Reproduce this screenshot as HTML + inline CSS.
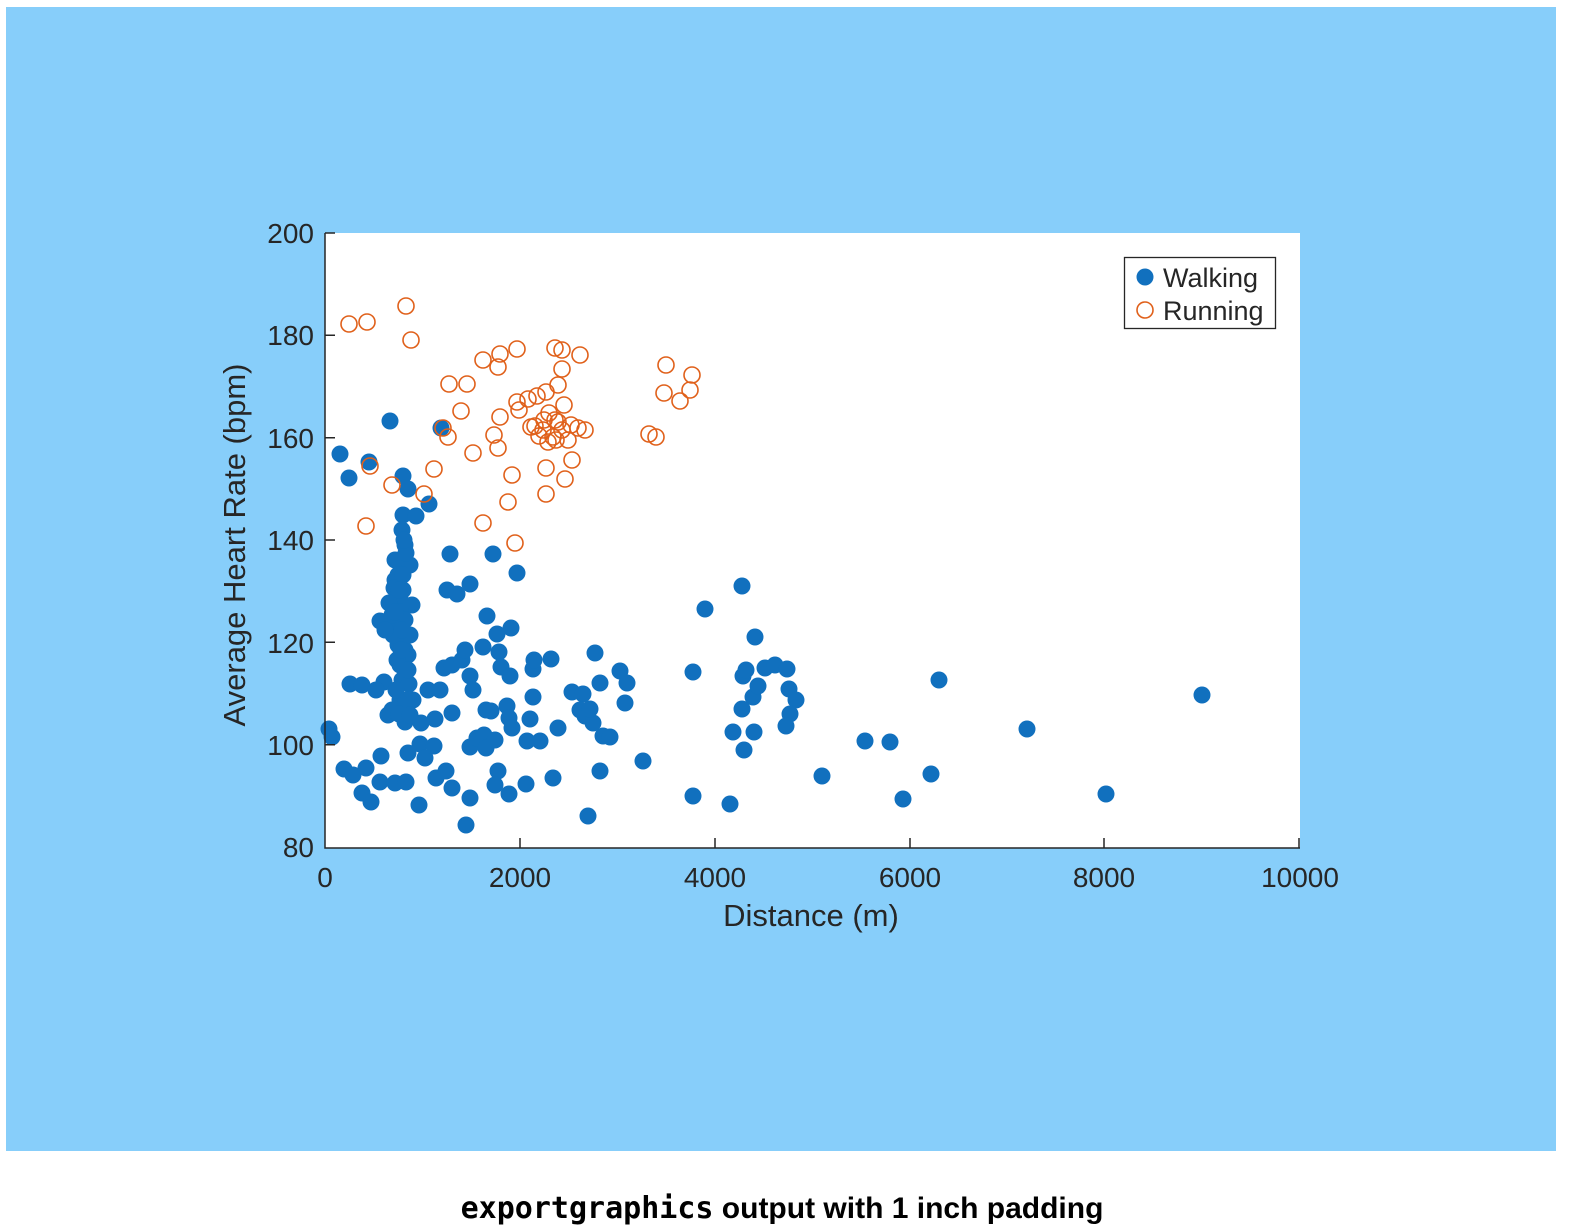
<!DOCTYPE html>
<html><head><meta charset="utf-8"><style>
html,body{margin:0;padding:0;background:#fff;width:1569px;height:1228px;overflow:hidden}
</style></head><body>
<svg width="1569" height="1228" xmlns="http://www.w3.org/2000/svg" font-family="Liberation Sans, Arial, sans-serif">
<rect x="6" y="7" width="1550" height="1144" fill="#87CEFA"/>
<rect x="325" y="233" width="975" height="615" fill="#fff"/>
<g id="walk" fill="#1170BE">
</g>
<g id="run" fill="none" stroke="#E0601A" stroke-width="1.6">
</g>
<g stroke="#262626" stroke-width="1.5" fill="none">
<path d="M325,233 V848 H1300"/>
<path d="M325,335.3h10M325,437.7h10M325,540h10M325,642.3h10M325,744.7h10M325,233h10"/>
<path d="M520,848v-10M715,848v-10M910,848v-10M1104,848v-10M1299,848v-10"/>
</g>
<g fill="#262626" font-size="28" text-anchor="end">
<text x="314" y="243">200</text><text x="314" y="345">180</text><text x="314" y="448">160</text>
<text x="314" y="550">140</text><text x="314" y="653">120</text><text x="314" y="755">100</text><text x="314" y="857">80</text>
</g>
<g fill="#262626" font-size="28" text-anchor="middle">
<text x="325" y="887">0</text><text x="520" y="887">2000</text><text x="715" y="887">4000</text>
<text x="910" y="887">6000</text><text x="1104" y="887">8000</text><text x="1300" y="887">10000</text>
<text x="811" y="926" font-size="31">Distance (m)</text>
<text transform="translate(245,545) rotate(-90)" font-size="31">Average Heart Rate (bpm)</text>
</g>
<rect x="1124.5" y="257.5" width="151" height="71" fill="#fff" stroke="#262626" stroke-width="1.3"/>
<circle cx="1145" cy="277" r="8.5" fill="#1170BE"/>
<circle cx="1145" cy="310" r="8" fill="none" stroke="#E0601A" stroke-width="1.6"/>
<text x="1163" y="287" font-size="27" fill="#262626">Walking</text>
<text x="1163" y="320" font-size="27" fill="#262626">Running</text>
<text x="782" y="1218" font-size="30" font-weight="bold" text-anchor="middle" fill="#000"><tspan font-family="DejaVu Sans Mono, Liberation Mono, monospace">exportgraphics</tspan> output with 1 inch padding</text>
</svg>
<script>
var W=[[340,454],[349,478],[369,462],[390,421],[441,428],[403,476],[408,489],[403,515],[416,516],[429,504],[450,554],[493,554],[517,573],[447,590],[457,594],[470,584],[487,616],[511,628],[380,621],[390,626],[395,580],[400,560],[405,545],[402,530],[410,565],[412,605],[398,640],[405,650],[410,635],[400,665],[402,680],[409,684],[400,700],[405,722],[413,700],[388,715],[392,710],[384,682],[350,684],[362,685],[376,690],[329,729],[332,737],[344,769],[353,775],[366,768],[381,756],[362,793],[371,802],[380,782],[395,783],[406,782],[419,805],[408,753],[420,744],[425,758],[434,746],[436,778],[446,771],[452,788],[421,723],[435,719],[428,690],[440,690],[444,668],[452,665],[462,660],[465,650],[470,676],[473,690],[452,713],[470,747],[477,738],[484,735],[486,748],[486,710],[491,711],[495,740],[483,647],[497,634],[499,652],[501,667],[510,676],[498,771],[495,785],[509,794],[470,798],[466,825],[507,706],[509,718],[512,728],[530,719],[527,741],[540,741],[526,784],[553,778],[533,697],[533,669],[534,660],[551,659],[558,728],[572,692],[583,694],[580,710],[585,716],[593,723],[590,709],[595,653],[600,683],[603,736],[610,737],[600,771],[588,816],[620,671],[627,683],[625,703],[643,761],[693,672],[705,609],[742,586],[755,637],[743,676],[746,670],[742,709],[753,697],[758,686],[765,668],[775,665],[787,669],[789,689],[796,700],[790,714],[786,726],[733,732],[754,732],[744,750],[693,796],[730,804],[822,776],[865,741],[890,742],[903,799],[931,774],[939,680],[1027,729],[1106,794],[1202,695],[395,560],[398,575],[403,590],[395,600],[400,610],[405,620],[395,625],[398,645],[408,655],[393,635],[400,595],[403,575],[406,553],[394,588],[392,615],[402,630],[389,603],[397,660],[385,630],[406,700],[399,714],[410,715],[404,540],[399,590],[396,690],[408,670],[401,650],[395,612]];
var R=[[349,324],[367,322],[406,306],[411,340],[449,384],[467,384],[461,411],[483,360],[500,354],[498,367],[517,349],[555,348],[562,350],[580,355],[562,369],[558,385],[546,392],[537,396],[528,399],[517,402],[519,410],[500,417],[494,435],[498,448],[473,453],[448,437],[443,428],[434,469],[424,494],[392,485],[370,466],[366,526],[483,523],[508,502],[512,475],[515,543],[546,494],[546,468],[565,479],[572,460],[548,442],[543,430],[531,427],[539,436],[553,437],[556,440],[562,430],[571,425],[578,428],[585,430],[564,405],[549,413],[555,420],[558,422],[544,420],[568,440],[649,434],[656,437],[664,393],[666,365],[680,401],[690,390],[692,375],[535,426]];
var ns="http://www.w3.org/2000/svg",gw=document.getElementById("walk"),gr=document.getElementById("run");
W.forEach(function(p){var c=document.createElementNS(ns,"circle");c.setAttribute("cx",p[0]);c.setAttribute("cy",p[1]);c.setAttribute("r",8.5);gw.appendChild(c);});
R.forEach(function(p){var c=document.createElementNS(ns,"circle");c.setAttribute("cx",p[0]);c.setAttribute("cy",p[1]);c.setAttribute("r",8);gr.appendChild(c);});
</script>
</body></html>
